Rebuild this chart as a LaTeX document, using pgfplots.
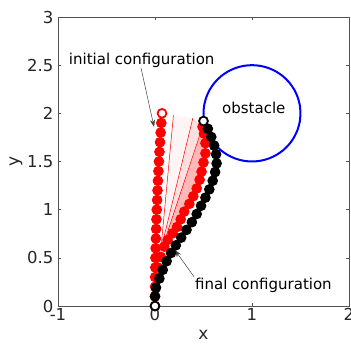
\documentclass[border=0pt]{standalone}
\usepackage{pgfplots}
\pgfplotsset{compat=1.18}
\usepackage{fontspec}
\setmainfont{DejaVu Sans}
\usetikzlibrary{arrows.meta}
\definecolor{axgray}{rgb}{0.15,0.15,0.15}
\begin{document}
\begin{tikzpicture}
\begin{axis}[
  at={(0,0)}, anchor=south west,
  width=291pt, height=289pt, scale only axis,
  xmin=-1, xmax=2, ymin=0, ymax=3,
  xtick={-1,0,1,2}, ytick={0,0.5,1,1.5,2,2.5,3},
  tick align=inside, major tick length=3pt,
  axis line style={axgray!80, line width=0.5pt},
  tick style={axgray!80, line width=0.5pt},
  /pgf/number format/assume math mode=true,
  ticklabel style={font=\fontsize{16.5}{19}\selectfont, text=axgray},
  xticklabel style={yshift=1pt},
  yticklabel style={xshift=-1pt},
  xlabel={x}, ylabel={y},
  label style={font=\fontsize{17}{20}\selectfont, text=axgray},
  xlabel style={at={(axis description cs:0.5,-0.1)}, anchor=center},
  ylabel style={at={(axis description cs:-0.144,0.5)}, anchor=center},
  clip=false,
]
% shaded region between intermediate lines
\addplot[draw=none, fill=red, fill opacity=0.04] coordinates {(0.06,0.58) (0.19,1.98) (0.39,1.95) (0.06,0.58)};
\addplot[draw=none, fill=red, fill opacity=0.12] coordinates {(0.06,0.58) (0.39,1.95) (0.49,1.86) (0.06,0.58)};
\addplot[draw=none, fill=red, fill opacity=0.28] coordinates {
(0.06,0.55) (0.096,0.616) (0.13,0.685) (0.182,0.754) (0.227,0.82) (0.265,0.9) (0.302,0.98) (0.354,1.06) (0.395,1.14) (0.43,1.22) (0.46,1.31) (0.48,1.395) (0.50,1.49) (0.52,1.585) (0.52,1.69) (0.505,1.79) (0.49,1.86) (0.08,0.62) (0.06,0.55)};
% thin intermediate lines
\addplot[red, line width=0.5pt] coordinates {(0.06,0.58) (0.19,1.98)};
\addplot[red, line width=0.5pt] coordinates {(0.06,0.58) (0.39,1.95)};
\addplot[red, line width=0.5pt] coordinates {(0.08,0.62) (0.49,1.86)};
% initial configuration
\addplot[only marks, mark=*, mark size=4.8pt, mark options={draw=red, fill=red, line width=1pt}] coordinates {
(0,0) (0.0002,0.1) (0.0007,0.2) (0.0016,0.3) (0.0029,0.4) (0.0045,0.5) (0.0065,0.6) (0.0088,0.7) (0.0115,0.8) (0.0146,0.9) (0.018,1.0) (0.0218,1.1) (0.0259,1.2) (0.0304,1.3) (0.0353,1.4) (0.0405,1.5) (0.0461,1.6) (0.052,1.7) (0.0583,1.8) (0.065,1.9)};
\addplot[only marks, mark=*, mark size=4.4pt, mark options={draw=red, fill=white, line width=1.8pt}] coordinates {(0.072,2.0)};
% intermediate configuration
\addplot[only marks, mark=*, mark size=4.8pt, mark options={draw=red, fill=red, line width=1pt}] coordinates {
(0.03,0.4) (0.06,0.51) (0.096,0.616) (0.13,0.685) (0.182,0.754) (0.227,0.82) (0.265,0.9) (0.302,0.98) (0.354,1.06) (0.395,1.14) (0.43,1.22) (0.46,1.31) (0.48,1.395) (0.50,1.49) (0.52,1.585) (0.52,1.69) (0.505,1.79) (0.49,1.86)};
% final configuration
\addplot[only marks, mark=*, mark size=4.8pt, mark options={draw=black, fill=black, line width=1pt}] coordinates {
(0,0.10) (0.01,0.19) (0.045,0.285) (0.08,0.375) (0.12,0.465) (0.165,0.55) (0.215,0.63) (0.27,0.71) (0.325,0.79) (0.38,0.87) (0.43,0.955) (0.475,1.04) (0.52,1.125) (0.56,1.21) (0.595,1.30) (0.62,1.39) (0.635,1.48) (0.63,1.575) (0.61,1.665) (0.58,1.755) (0.545,1.84)};
\addplot[only marks, mark=*, mark size=4.4pt, mark options={draw=black, fill=white, line width=1.8pt}] coordinates {(0,0) (0.50,1.92)};
% obstacle
\addplot[blue, line width=2pt, smooth] coordinates {
(1.5,2) (1.4924,2.0868) (1.4698,2.1710) (1.4330,2.25) (1.3830,2.3214) (1.3214,2.3830) (1.25,2.4330) (1.1710,2.4698) (1.0868,2.4924) (1,2.5) (0.9132,2.4924) (0.8290,2.4698) (0.75,2.4330) (0.6786,2.3830) (0.6170,2.3214) (0.5670,2.25) (0.5302,2.1710) (0.5076,2.0868) (0.5,2) (0.5076,1.9132) (0.5302,1.8290) (0.5670,1.75) (0.6170,1.6786) (0.6786,1.6170) (0.75,1.5670) (0.8290,1.5302) (0.9132,1.5076) (1,1.5) (1.0868,1.5076) (1.1710,1.5302) (1.25,1.5670) (1.3214,1.6170) (1.3830,1.6786) (1.4330,1.75) (1.4698,1.8290) (1.4924,1.9132) (1.5,2)};
% annotations
\node[anchor=base, font=\fontsize{15}{18}\selectfont, inner sep=0pt] at (axis cs:-0.137,2.51) {initial configuration};
\node[anchor=base, font=\fontsize{15}{18}\selectfont, inner sep=0pt] at (axis cs:1.019,2.0) {obstacle};
\node[anchor=base, font=\fontsize{15}{18}\selectfont, inner sep=0pt] at (axis cs:1.118,0.173) {final configuration};
\draw[black!75, line width=0.5pt, -{Stealth[length=7pt,width=5pt]}] (axis cs:-0.144,2.47) -- (axis cs:-0.01,1.86);
\draw[black!75, line width=0.5pt, -{Stealth[length=7pt,width=5pt]}] (axis cs:0.405,0.30) -- (axis cs:0.206,0.58);
\end{axis}
\pgfresetboundingbox
\path (-58pt,-44pt) rectangle (293pt,306pt);
\end{tikzpicture}
\end{document}
